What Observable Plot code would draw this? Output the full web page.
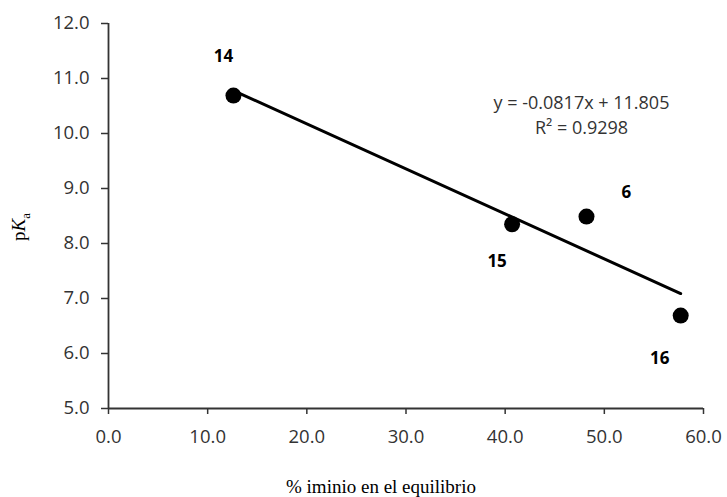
<!DOCTYPE html>
<html>
<head>
<meta charset="utf-8">
<script src="https://cdn.jsdelivr.net/npm/d3@7"></script>
<script src="https://cdn.jsdelivr.net/npm/@observablehq/plot@0.6"></script>
<style>
  html, body { margin: 0; padding: 0; background: #fff; }
  #chart svg { display: block; }
</style>
</head>
<body>
<div id="chart"></div>
<script>
// ---- data ----
const compounds = ["14", "15", "6", "16"];
const iminio = [12.6, 40.7, 48.2, 57.7];
const pKa = [10.69, 8.35, 8.49, 6.69];
const trendX = [12.6, 57.7];
const trendY = [10.78, 7.09];
const equationLines = ["y = -0.0817x + 11.805", "R² = 0.9298"];
const xTicks = [0, 10, 20, 30, 40, 50, 60];
const yTicks = [5, 6, 7, 8, 9, 10, 11, 12];
const xTitle = "% iminio en el equilibrio";

// ---- tables built from the arrays ----
const points = compounds.map((c, i) => ({id: c, x: iminio[i], y: pKa[i]}));
const trend = trendX.map((x, i) => ({x, y: trendY[i]}));

// ---- styling ----
const sans = "'Open Sans', 'DejaVu Sans', sans-serif";
const serif = "'Liberation Serif', 'DejaVu Serif', serif";
const labelOffsets = {"14": [-10, -39], "15": [-15, 37], "6": [40, -24], "16": [-21, 43]};
const equationDy = [80, 105];

const labelMarks = compounds.map(c => Plot.text(points.filter(d => d.id === c), {
  x: "x", y: "y", text: "id",
  dx: labelOffsets[c][0], dy: labelOffsets[c][1],
  fontFamily: sans, fontSize: 17, fontWeight: "bold", fill: "#000"
}));

const equationMarks = equationLines.map((line, i) => Plot.text([line], {
  text: d => d, frameAnchor: "top-left", dx: 473, dy: equationDy[i], lineAnchor: "middle",
  textAnchor: "middle", fontFamily: sans, fontSize: 18, fill: "#333"
}));

const plot = Plot.plot({
  width: 727,
  height: 497,
  marginLeft: 108,
  marginRight: 24,
  marginTop: 23,
  marginBottom: 89,
  style: {fontFamily: sans, background: "#fff"},
  x: {domain: [0, 60]},
  y: {domain: [5, 12]},
  marks: [
    Plot.axisX({ticks: xTicks, tickFormat: d3.format(".1f"), tickSize: 6, tickPadding: 15,
      fontSize: 18.5, fill: "#333", stroke: "#333", strokeWidth: 1.5, label: null}),
    Plot.axisY({ticks: yTicks, tickFormat: d3.format(".1f"), tickSize: 7, tickPadding: 12,
      fontSize: 18.5, fill: "#333", stroke: "#333", strokeWidth: 1.5, label: null}),
    Plot.ruleX([0], {stroke: "#333", strokeWidth: 1.8}),
    Plot.ruleY([5], {stroke: "#333", strokeWidth: 1.8}),
    Plot.line(trend, {x: "x", y: "y", stroke: "#000", strokeWidth: 3}),
    Plot.dot(points, {x: "x", y: "y", r: 8, fill: "#000", stroke: "none"}),
    ...labelMarks,
    ...equationMarks,
    Plot.text([xTitle], {
      text: d => d, frameAnchor: "bottom", dx: -25, dy: 78, lineAnchor: "middle",
      fontFamily: serif, fontSize: 19, fill: "#000"
    })
  ]
});

// y-axis title with italic K and subscript a
const svg = d3.select(plot);
const yt = svg.append("text")
  .attr("transform", "translate(25,227) rotate(-90)")
  .attr("text-anchor", "middle")
  .attr("font-family", serif)
  .attr("font-size", 19)
  .attr("fill", "#000");
yt.append("tspan").text("p");
yt.append("tspan").attr("font-style", "italic").text("K");
yt.append("tspan").attr("font-size", 13).attr("dy", "0.35em").text("a");

document.getElementById("chart").appendChild(plot);
</script>
</body>
</html>
